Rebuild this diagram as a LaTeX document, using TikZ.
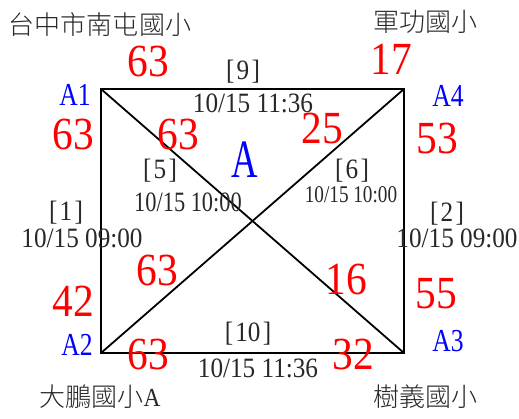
\documentclass[tikz,border=0pt]{standalone}
\usepackage{fontspec}
\setmainfont{Liberation Serif}
\newfontfamily\cjkf{Noto Sans CJK TC Light}
\newfontfamily\serA[FakeStretch=0.9]{Liberation Serif}
\newfontfamily\serB[FakeStretch=0.8]{Liberation Serif}
\newfontfamily\serC[FakeStretch=0.68]{Liberation Serif}
\definecolor{txtgray}{RGB}{40,40,40}
\begin{document}
\begin{tikzpicture}[x=1pt,y=-1pt,
  every node/.style={inner sep=0pt, outer sep=0pt, anchor=center},
  school/.style={text=txtgray, font=\cjkf\fontsize{26}{26}\selectfont},
  num/.style={text=red, font=\serA\fontsize{46}{46}\selectfont},
  corner/.style={text=blue, font=\serB\fontsize{32}{32}\selectfont},
  bigA/.style={text=blue, font=\serC\fontsize{54}{54}\selectfont},
  info/.style={text=txtgray, font=\serA\fontsize{28}{28}\selectfont},
  infosm/.style={text=txtgray, font=\serB\fontsize{28}{28}\selectfont},
  infoxs/.style={text=txtgray, font=\serB\fontsize{24}{24}\selectfont},
  edge/.style={draw=black, line width=1.8pt, line join=miter}]
\useasboundingbox (0,0) rectangle (519,419);
\fill[white] (0,0) rectangle (519,419);
% corners
\coordinate (c1) at (101,89);
\coordinate (c4) at (404,89);
\coordinate (c3) at (404,353);
\coordinate (c2) at (101,353);
\draw[edge] (c1) -- (c4) -- (c3) -- (c2) -- cycle;
\draw[edge] (c1) -- (c3);
\draw[edge] (c4) -- (c2);
% school names
\node[school] (s1) at (100,25) {台中市南屯國小};
\node[school] (s4) at (425,22) {軍功國小};
\node[school] (s2) at (100,397) {大鵬國小{\serA A}};
\node[school] (s3) at (425,397) {樹義國小};
% corner labels
\node[corner] (a1) at (75,95) {A1};
\node[corner] (a4) at (448,96) {A4};
\node[corner] (a2) at (77,345) {A2};
\node[corner] (a3) at (448,341) {A3};
\node[bigA] (ga) at (245,160) {A};
% red numbers
\node[num] (n1) at (148,62) {63};
\node[num] (n2) at (391,59) {17};
\node[num] (n3) at (73,134) {63};
\node[num] (n4) at (178,134) {63};
\node[num] (n5) at (322,128) {25};
\node[num] (n6) at (437,138) {53};
\node[num] (n7) at (157,270) {63};
\node[num] (n8) at (346,279) {16};
\node[num] (n9) at (73,301) {42};
\node[num] (n10) at (436,294) {55};
\node[num] (n11) at (148,354) {63};
\node[num] (n12) at (353,354) {32};
% match info
\node[info] (m9) at (243,72) {[\hspace{0.08em}9\hspace{0.08em}]};
\node[info] (t9) at (253,103) {10/15 11:36};
\node[info] (m10) at (248,334) {[\hspace{0.08em}10\hspace{0.08em}]};
\node[info] (t10) at (258,368) {10/15 11:36};
\node[info] (m1) at (66,213) {[\hspace{0.08em}1\hspace{0.08em}]};
\node[info] (t1) at (82,238) {10/15 09:00};
\node[info] (m2) at (447,214) {[\hspace{0.08em}2\hspace{0.08em}]};
\node[info] (t2) at (457,238) {10/15 09:00};
\node[info] (m5) at (160,171) {[\hspace{0.08em}5\hspace{0.08em}]};
\node[infosm] (t5) at (188,202) {10/15 10:00};
\node[info] (m6) at (352,171) {[\hspace{0.08em}6\hspace{0.08em}]};
\node[infoxs] (t6) at (351,195) {10/15 10:00};
\end{tikzpicture}
\end{document}
